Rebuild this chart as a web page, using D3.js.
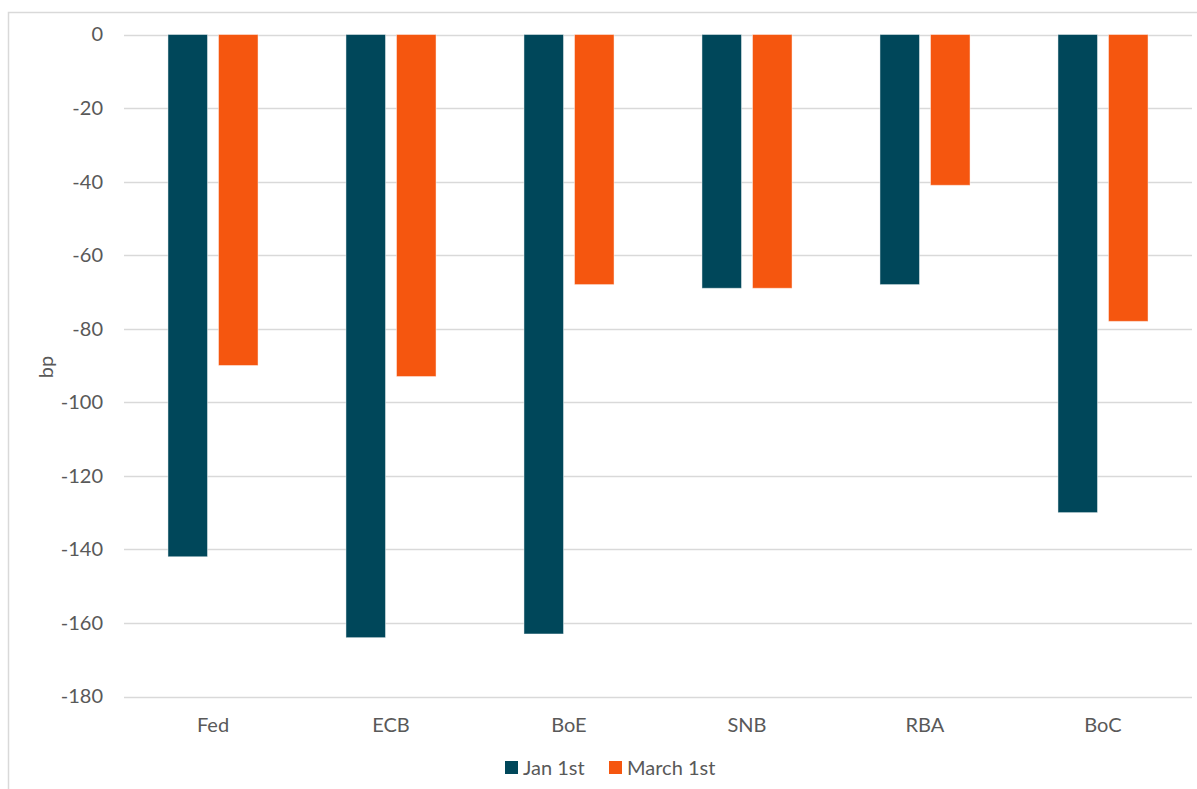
<!DOCTYPE html>
<html>
<head>
<meta charset="utf-8"/>
<title>Rate cuts priced</title>
<style>
	body { margin: 0; background: #fff; }
	svg text { font-family: "Lato", "Open Sans", sans-serif; fill: #595959; }
</style>
</head>
<body>
<div id="chart"></div>
<script src="https://cdn.jsdelivr.net/npm/d3@7"></script>
<script>
// chart values
var banks = ["Fed", "ECB", "BoE", "SNB", "RBA", "BoC"];
var seriesNames = ["Jan 1st", "March 1st"];
var jan1 = [-142, -164, -163, -69, -68, -130];
var march1 = [-90, -93, -68, -69, -41, -78];
var yTicks = [0, -20, -40, -60, -80, -100, -120, -140, -160, -180];
var colors = ["#00475a", "#f5560f"];

var W = 1197, H = 789, FS = 20;
var svg = d3.select("#chart").append("svg").attr("width", W).attr("height", H);

// outer chart border (right/bottom edges run off the picture)
svg.append("rect").attr("x", 8.5).attr("y", 12.5).attr("width", 1300).attr("height", 900)
	.attr("fill", "none").attr("stroke", "#d9d9d9").attr("stroke-width", 1.5);

var plotLeft = 124, plotRight = 1192, plotTop = 34.5, plotBottom = 696.5;

var y = d3.scaleLinear().domain([-180, 0]).range([plotBottom, plotTop]);
var x0 = d3.scaleBand().domain(banks).range([plotLeft, plotRight]).paddingInner(0.494).paddingOuter(0.247);
var x1 = d3.scaleBand().domain(seriesNames).range([0, x0.bandwidth()]).paddingInner(0.218);

// gridlines
svg.append("g").selectAll("line").data(yTicks).enter().append("line")
	.attr("x1", plotLeft).attr("x2", plotRight)
	.attr("y1", function(d) { return Math.round(y(d)) + 0.5; })
	.attr("y2", function(d) { return Math.round(y(d)) + 0.5; })
	.attr("stroke", "#d9d9d9").attr("stroke-width", 1.3);

// y tick labels (plain hyphen, as in Excel)
var yAxis = d3.axisLeft(y).tickValues(yTicks).tickSize(0).tickPadding(0).tickFormat(function(d) { return String(d); });
var gy = svg.append("g").attr("transform", "translate(103,0)").call(yAxis);
gy.select(".domain").remove();
gy.selectAll("text").attr("font-size", FS).style("font-family", "Lato, sans-serif").attr("fill", "#595959");

// bars
var rows = banks.map(function(b, i) { return { bank: b, vals: [jan1[i], march1[i]] }; });
var groups = svg.append("g").selectAll("g").data(rows).enter().append("g")
	.attr("transform", function(d) { return "translate(" + x0(d.bank) + ",0)"; });
groups.selectAll("rect").data(function(d) {
		return d.vals.map(function(v, k) { return { s: seriesNames[k], v: v, k: k }; });
	}).enter().append("rect")
	.attr("x", function(d) { return x1(d.s); })
	.attr("width", x1.bandwidth())
	.attr("y", y(0))
	.attr("height", function(d) { return y(d.v) - y(0); })
	.attr("fill", function(d) { return colors[d.k]; })
	.attr("stroke", "rgba(255,255,255,0.45)").attr("stroke-width", 1);

// category labels
var xAxis = d3.axisBottom(x0).tickSize(0).tickPadding(0);
var gx = svg.append("g").attr("transform", "translate(0,718)").call(xAxis);
gx.select(".domain").remove();
gx.selectAll("text").attr("font-size", FS).style("font-family", "Lato, sans-serif").attr("fill", "#595959");

// y axis title
svg.append("text").attr("transform", "translate(53,367) rotate(-90)")
	.attr("text-anchor", "middle").attr("font-size", FS).text("bp");

// legend
var legendX = [505, 609];
var lg = svg.append("g").selectAll("g").data(seriesNames).enter().append("g")
	.attr("transform", function(d, i) { return "translate(" + legendX[i] + ",761)"; });
lg.append("rect").attr("width", 13).attr("height", 13)
	.attr("fill", function(d, i) { return colors[i]; });
lg.append("text").attr("x", 18).attr("y", 14).attr("font-size", FS).text(function(d) { return d; });
</script>
</body>
</html>
